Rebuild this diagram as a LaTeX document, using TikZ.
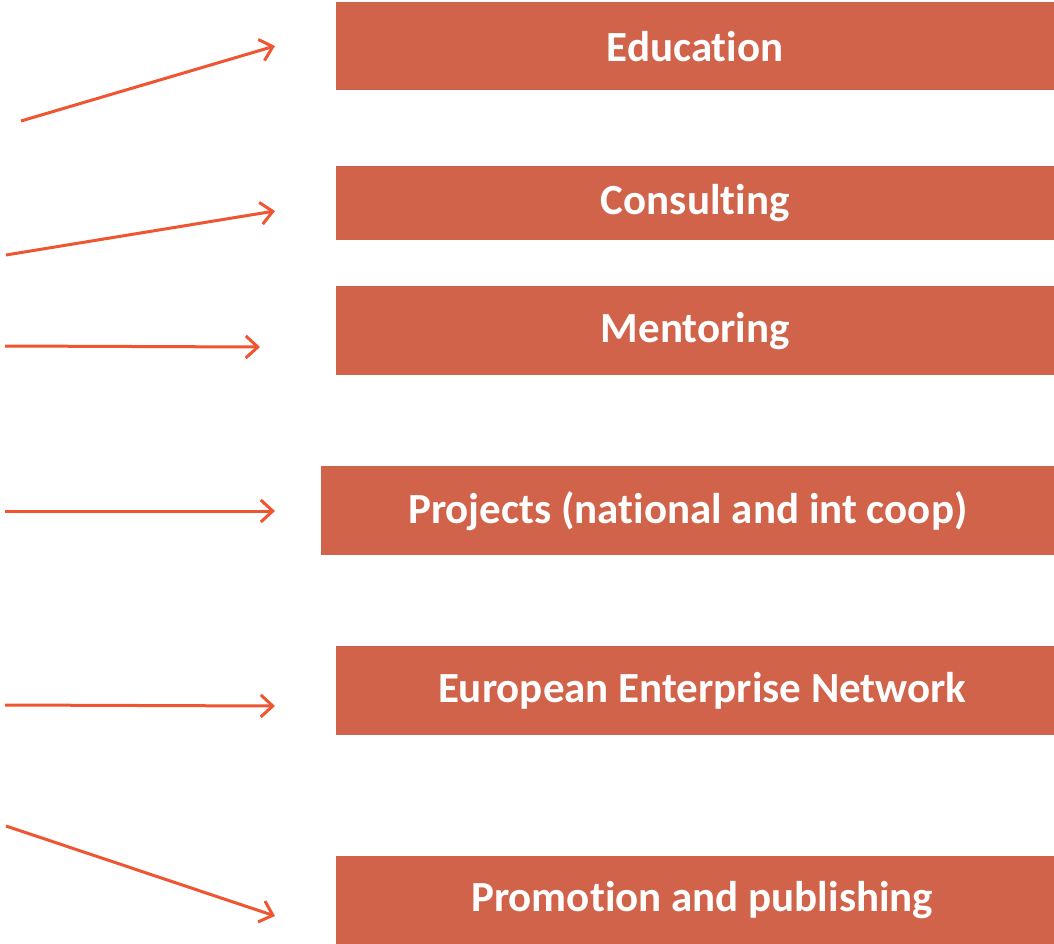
\documentclass[tikz,border=0pt]{standalone}
\usepackage{fontspec}
\setmainfont{Carlito}[Ligatures=NoCommon]
\usetikzlibrary{arrows.meta}
\definecolor{boxred}{HTML}{D0634A}
\definecolor{arrowred}{HTML}{EE5530}
\begin{document}
\begin{tikzpicture}[x=1pt,y=-1pt,>={Straight Barb[length=12pt,width=22pt]},
	area/.style={fill=boxred,text=white,font=\fontsize{43}{48}\selectfont\bfseries,inner sep=0pt,anchor=north west},
	pointer/.style={->,color=arrowred,line width=3pt}]
	\useasboundingbox (0,0) rectangle (1054,944);
	\node[area,minimum width=718pt,minimum height=88pt] (edu) at (336,2) {Education};
	\node[area,minimum width=718pt,minimum height=74pt] (cons) at (336,166) {Consulting};
	\node[area,minimum width=718pt,minimum height=89pt] (ment) at (336,286) {Mentoring};
	\node[area,minimum width=733pt,minimum height=89pt] (proj) at (321,466) {Projects (national and int coop)};
	\node[area,minimum width=718pt,minimum height=89pt] (een) at (336,646) {\hspace{14pt}European Enterprise Network};
	\node[area,minimum width=718pt,minimum height=88pt] (prom) at (336,856) {\hspace{14pt}Promotion and publishing};
	% free ends of the arrows
	\coordinate (s1) at (21,121);  \coordinate (t1) at (275,46);
	\coordinate (s2) at (6,255);   \coordinate (t2) at (275,211);
	\coordinate (s3) at (5,346);   \coordinate (t3) at (260,347);
	\coordinate (s4) at (5,511);   \coordinate (t4) at (275,511);
	\coordinate (s5) at (5,705);   \coordinate (t5) at (275,706);
	\coordinate (s6) at (6,826);   \coordinate (t6) at (275,916);
	\foreach \i in {1,...,6}
		\draw[pointer] (s\i) -- (t\i);
\end{tikzpicture}
\end{document}
